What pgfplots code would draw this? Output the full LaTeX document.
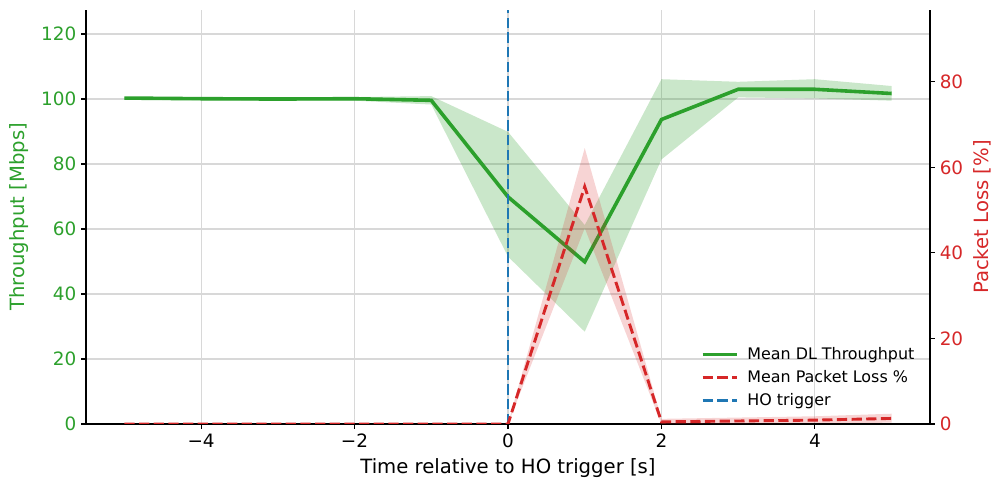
\documentclass[border=0pt]{standalone}
\usepackage{pgfplots}
\pgfplotsset{compat=1.18}
\usepackage{fontspec}
\setmainfont{DejaVu Sans}
\definecolor{tabgreen}{HTML}{2CA02C}
\definecolor{tabred}{HTML}{D62728}
\definecolor{tabblue}{HTML}{1F77B4}
\definecolor{gridgray}{HTML}{D8D8D8}
\begin{document}
\begin{tikzpicture}
\pgfplotsset{
  base/.style={
    at={(0,0)}, anchor=south west,
    width=610pt, height=299.2pt, scale only axis,
    xmin=-5.5, xmax=5.5,
    axis line style={line width=0.8pt,-},
    tick style={line width=0.8pt, black},
    major tick length=3.5pt, tick align=outside,
    ticklabel style={font=\fontsize{13.3}{16}\selectfont},
    label style={font=\fontsize{14.2}{17}\selectfont},
    /pgf/number format/assume math mode=true,
  },
}
\path[use as bounding box] (-62.15pt,-43.36pt) rectangle (656.98pt,306.43pt);
\begin{axis}[base,
  ymin=0, ymax=127.4,
  axis x line*=bottom, axis y line*=left,
  xtick={-4,-2,0,2,4}, xticklabels={−4,−2,0,2,4},
  ytick={0,20,40,60,80,100,120},
  xmajorgrids, ymajorgrids,
  major grid style={gridgray, line width=0.8pt},
  yticklabel style={color=tabgreen},
  xlabel={Time relative to HO trigger [s]},
  xlabel style={at={(axis description cs:0.5,0)}, anchor=center, yshift=-32pt},
  ylabel={Throughput [Mbps]},
  ylabel style={at={(axis description cs:-0.0795,0.5)}, anchor=center, color=tabgreen},
]
\addplot[draw=none, fill=tabgreen, fill opacity=0.25, forget plot] coordinates {
  (-5,100.6) (-4,100.5) (-3,100.5) (-2,100.6) (-1,100.9) (0,89.9) (1,61.2) (2,106.1) (3,105.3) (4,106.1) (5,104.0)
  (5,99.5) (4,100.2) (3,100.5) (2,81.4) (1,28.4) (0,51.5) (-1,98.3) (-2,99.5) (-3,99.5) (-4,99.6) (-5,99.8)
} -- cycle;
\addplot[tabgreen, line width=2.6pt, forget plot] coordinates {
  (-5,100.3) (-4,100.1) (-3,100.0) (-2,100.1) (-1,99.6) (0,69.9) (1,49.9) (2,93.7) (3,103.0) (4,103.0) (5,101.7)
};
\addplot[tabblue, line width=2.1pt, dash pattern=on 7.4pt off 3.2pt, forget plot] coordinates {(0,0) (0,127.4)};
\end{axis}
\begin{axis}[base,
  ymin=0, ymax=96.8,
  hide x axis, axis y line*=right,
  ytick={0,20,40,60,80},
  yticklabel style={color=tabred},
  ylabel={Packet Loss [\%]},
  ylabel style={at={(axis description cs:1.0623,0.5)}, anchor=center, color=tabred},
  legend style={draw=none, fill=none, font=\fontsize{11.5}{13.8}\selectfont,
    at={(axis description cs:0.99,0.025)}, anchor=south east, row sep=2.5pt,
    legend cell align=left},
  legend image code/.code={\draw[#1] (0pt,0pt) -- (25pt,0pt); \path (29pt,0pt);},
]
\addlegendimage{tabgreen, line width=2.6pt}
\addlegendentry{Mean DL Throughput}
\addplot[draw=none, fill=tabred, fill opacity=0.2, forget plot] coordinates {
  (-5,0) (-4,0) (-3,0) (-2,0) (-1,0) (0,0) (1,64.5) (2,1.2) (3,1.5) (4,1.8) (5,2.4)
  (5,0.3) (4,0.2) (3,0.1) (2,0) (1,45.8) (0,0) (-1,0) (-2,0) (-3,0) (-4,0) (-5,0)
} -- cycle;
\addplot[tabred, line width=2.1pt, dash pattern=on 7.4pt off 3.2pt] coordinates {
  (-5,0) (-4,0) (-3,0) (-2,0) (-1,0) (0,0) (1,55.5) (2,0.5) (3,0.7) (4,0.9) (5,1.3)
};
\addlegendentry{Mean Packet Loss \%}
\addlegendimage{tabblue, line width=2.1pt, dash pattern=on 7.4pt off 3.2pt}
\addlegendentry{HO trigger}
\end{axis}
\end{tikzpicture}
\end{document}
